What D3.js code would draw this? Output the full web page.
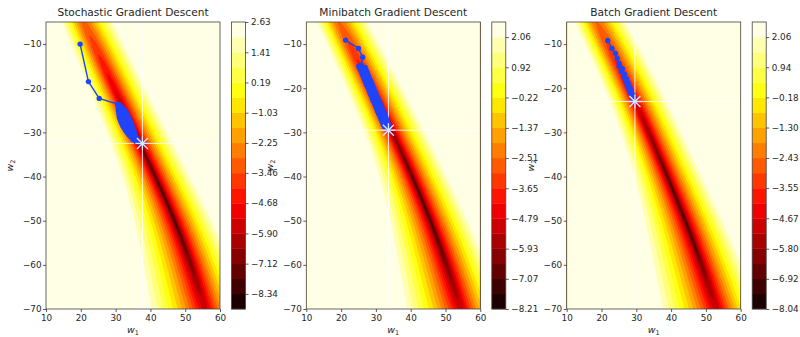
<!DOCTYPE html>
<html>
<head>
<meta charset="utf-8">
<script src="https://cdn.jsdelivr.net/npm/d3@7"></script>
<style>
  body { margin: 0; background: #fff; }
  text { font-family: "DejaVu Sans", sans-serif; fill: #262626; }
</style>
</head>
<body>
<svg id="chart" width="800" height="337"></svg>
<script>
// ---- data ----
const titles = ['Stochastic Gradient Descent', 'Minibatch Gradient Descent', 'Batch Gradient Descent'];
const w1Domain = [10, 60];
const w2Domain = [-70, -5];
const xTicks = [10, 20, 30, 40, 50, 60];
const yTicks = [-10, -20, -30, -40, -50, -60, -70];

// contour level range (min, max) of each panel, 20 levels -> 19 bands
const levelRange = [[-8.95, 2.63], [-8.21, 2.63], [-8.04, 2.62]];
const cbTickLabels = [
  ['2.63', '1.41', '0.19', '−1.03', '−2.25', '−3.46', '−4.68', '−5.90', '−7.12', '−8.34'],
  ['2.06', '0.92', '−0.22', '−1.37', '−2.51', '−3.65', '−4.79', '−5.93', '−7.07', '−8.21'],
  ['2.06', '0.94', '−0.18', '−1.30', '−2.43', '−3.55', '−4.67', '−5.80', '−6.92', '−8.04']
];

// loss valley, sampled at evenly spaced w2 from -5 down to -70:
// centre w1 per panel, distance (w1 units) from centre to the pale outer edge
const valleyW1 = [
  [20.8, 30.2, 40.0, 49.3, 55.8],
  [19.3, 29.5, 39.2, 47.8, 54.5],
  [18.6, 28.9, 37.6, 46.2, 53.1]
];
const edgeLeft = [6.5, 7.0, 8.5, 12.5, 15.5];
const edgeRight = [8.5, 8.8, 9.5, 10.8, 12];
const valleyLowW2 = [-46, -47, -47];
const alongScale = 80;

// descent paths [w1, w2]
const sgdPath = [
  [19.8, -10], [22.2, -18.5], [25.3, -22.3], [30.6, -23.6],
  [31.2, -23.8], [30.8, -24.05], [31.8, -24.3], [30.8, -24.55], [32.4, -24.8], [30.8, -25.05],
  [32.9, -25.3], [30.9, -25.55], [33.2, -25.8], [31.0, -26.05], [33.5, -26.3], [31.1, -26.55],
  [33.8, -26.8], [31.3, -27.05], [34.1, -27.3], [31.5, -27.55], [34.4, -27.8], [31.8, -28.05],
  [34.6, -28.3], [32.1, -28.55], [34.8, -28.8], [32.5, -29.05], [35.1, -29.3], [32.9, -29.55],
  [35.3, -29.8], [33.3, -30.05], [35.5, -30.3], [33.8, -30.55], [35.7, -30.8], [34.4, -31.05],
  [36.0, -31.3], [35.0, -31.55], [36.4, -31.8], [35.8, -32.05], [36.8, -32.25], [37.2, -32.4],
  [37.7, -32.5]
];
const minibatchPath = [
  [21.3, -9.1], [25.0, -11.0], [26.2, -13.0], [25.8, -14.8],
  [25.1, -15.0], [26.9, -15.3], [25.4, -15.6], [27.2, -15.9], [25.8, -16.2], [27.5, -16.5],
  [26.1, -16.8], [27.8, -17.1], [26.4, -17.4], [28.1, -17.7], [26.7, -18.0], [28.5, -18.3],
  [27.0, -18.6], [28.8, -18.9], [27.3, -19.2], [29.1, -19.5], [27.7, -19.8], [29.4, -20.1],
  [28.0, -20.4], [29.7, -20.7], [28.3, -21.0], [30.0, -21.3], [28.6, -21.6], [30.4, -21.9],
  [28.9, -22.2], [30.7, -22.5], [29.2, -22.8], [31.0, -23.1], [29.6, -23.4], [31.3, -23.7],
  [29.9, -24.0], [31.6, -24.3], [30.2, -24.6], [32.0, -24.9], [30.5, -25.2], [32.3, -25.5],
  [30.8, -25.8], [32.6, -26.1], [31.2, -26.4], [32.9, -26.7], [31.5, -27.0], [33.2, -27.3],
  [31.8, -27.6], [33.5, -27.9], [32.1, -28.2], [33.8, -28.5], [32.5, -28.8], [33.8, -29.1],
  [33.6, -29.5]
];
const batchPath = [
  [21.8, -9.2], [23.0, -11.0], [24.0, -12.1], [24.5, -13.2], [25.1, -14.4],
  [25.1, -15.0], [26.0, -15.6], [25.7, -16.2], [26.6, -16.8], [26.4, -17.4], [27.2, -17.9],
  [26.9, -18.4], [27.7, -18.9], [27.4, -19.4], [28.2, -19.9], [27.9, -20.3], [28.6, -20.7],
  [28.3, -21.1], [29.0, -21.5], [28.8, -21.9], [29.3, -22.2], [29.1, -22.5], [29.6, -22.8],
  [29.6, -23.0]
];
const paths = [sgdPath, minibatchPath, batchPath];

// ---- layout ----
const svg = d3.select('#chart');
const plotTop = 22, plotBottom = 309, plotW = 174;
const axLeft = [46, 306.3, 566.7];
const cbGap = 11.5, cbW = 14;
const pathColor = '#1f45fc';

// matplotlib 'hot' colormap
function hot(t) {
  const a = 0.365079, b = 0.746032;
  const r = t < a ? 0.0416 + (1 - 0.0416) * t / a : 1;
  const g = t < a ? 0 : t < b ? (t - a) / (b - a) : 1;
  const bl = t < b ? 0 : (t - b) / (1 - b);
  return d3.rgb(r * 255, g * 255, bl * 255).formatHex();
}

function styleAxis(g) {
  g.select('.domain').remove();
  g.selectAll('line').attr('stroke', '#333').attr('stroke-width', 0.8);
  g.selectAll('text').attr('font-family', 'DejaVu Sans').attr('font-size', 8.8).attr('fill', '#262626');
}

// edge sits on the top contour level (18 of 19): f = sqrt(r) -> r = (18/19)^2
const edgeR = Math.pow(18 / 19, 2);
const along = d3.scaleLinear().domain(w2Domain).range([1, 0]); // 0 at top, 1 at bottom
const leftW = d3.interpolateBasis(edgeLeft.map(v => v / edgeR));
const rightW = d3.interpolateBasis(edgeRight.map(v => v / edgeR));

titles.forEach((title, k) => {
  const x0 = axLeft[k];
  const x = d3.scaleLinear().domain(w1Domain).range([x0, x0 + plotW]);
  const y = d3.scaleLinear().domain(w2Domain).range([plotBottom, plotTop]);
  const [zmin, zmax] = levelRange[k];
  const levels = d3.range(20).map(i => zmin + (zmax - zmin) * i / 19);
  const valley = d3.interpolateBasis(valleyW1[k]);

  // loss surface on a 1px grid
  const nx = plotW, ny = plotBottom - plotTop;
  const values = new Float64Array(nx * ny);
  for (let j = 0; j < ny; j++) {
    const w2 = y.invert(plotTop + j + 0.5);
    const t = along(w2);
    const c = valley(t), wl = leftW(t), wr = rightW(t);
    const s = Math.pow((w2 - valleyLowW2[k]) / alongScale, 2);
    for (let i = 0; i < nx; i++) {
      const w1 = x.invert(x0 + i + 0.5);
      const e = w1 < c ? (c - w1) / wl : (w1 - c) / wr;
      const f = Math.min(1, Math.sqrt(Math.hypot(e, s)));
      values[j * nx + i] = zmin + f * (zmax - zmin);
    }
  }
  const contours = d3.contours().size([nx, ny]).thresholds(levels.slice(0, 19))(values);

  svg.append('clipPath').attr('id', 'clip' + k)
    .append('rect').attr('x', x0).attr('y', plotTop).attr('width', plotW).attr('height', ny);

  const plot = svg.append('g').attr('clip-path', `url(#clip${k})`);

  plot.append('g')
    .attr('transform', `translate(${x0},${plotTop})`)
    .selectAll('path')
    .data(contours)
    .join('path')
    .attr('d', d3.geoPath())
    .attr('fill', (d, i) => hot((i + 0.5) / 19));

  // crosshair through the final point
  const last = paths[k][paths[k].length - 1];
  plot.append('line')
    .attr('x1', x(last[0])).attr('x2', x(last[0]))
    .attr('y1', plotTop).attr('y2', plotBottom)
    .attr('stroke', '#fff').attr('stroke-width', 1).attr('opacity', 0.85);
  plot.append('line')
    .attr('x1', x0).attr('x2', x0 + plotW)
    .attr('y1', y(last[1])).attr('y2', y(last[1]))
    .attr('stroke', '#fff').attr('stroke-width', 1).attr('opacity', 0.85);

  // descent path
  plot.append('path')
    .datum(paths[k])
    .attr('d', d3.line().x(d => x(d[0])).y(d => y(d[1])))
    .attr('fill', 'none')
    .attr('stroke', pathColor)
    .attr('stroke-width', 1.4);
  plot.append('g')
    .selectAll('circle')
    .data(paths[k])
    .join('circle')
    .attr('cx', d => x(d[0]))
    .attr('cy', d => y(d[1]))
    .attr('r', 2.7)
    .attr('fill', pathColor);

  // star marker at the end
  const sx = x(last[0]), sy = y(last[1]);
  const star = plot.append('g').attr('stroke', '#e4e6ff').attr('stroke-width', 1.3);
  [[5.5, 5.5], [5.5, -5.5], [7, 0], [0, 7]].forEach(([dx, dy]) => {
    star.append('line')
      .attr('x1', sx - dx).attr('y1', sy - dy)
      .attr('x2', sx + dx).attr('y2', sy + dy);
  });

  // frame
  svg.append('rect')
    .attr('x', x0).attr('y', plotTop).attr('width', plotW).attr('height', ny)
    .attr('fill', 'none').attr('stroke', '#444').attr('stroke-width', 0.8);

  svg.append('g')
    .attr('transform', `translate(0,${plotBottom})`)
    .call(d3.axisBottom(x).tickValues(xTicks).tickSize(3).tickPadding(3))
    .call(styleAxis);
  svg.append('g')
    .attr('transform', `translate(${x0},0)`)
    .call(d3.axisLeft(y).tickValues(yTicks).tickSize(3).tickPadding(1.5))
    .call(styleAxis);

  svg.append('text')
    .attr('x', x0 + plotW / 2).attr('y', 16)
    .attr('text-anchor', 'middle')
    .attr('font-size', 10.6)
    .text(title);

  const xl = svg.append('text')
    .attr('x', x0 + plotW / 2).attr('y', 333)
    .attr('text-anchor', 'middle')
    .attr('font-size', 9.5).attr('font-style', 'italic');
  xl.append('tspan').text('w');
  xl.append('tspan').attr('font-size', 6.5).attr('font-style', 'normal').attr('dy', 2).text('1');

  const yl = svg.append('text')
    .attr('transform', `translate(${x0 - 33},${(plotTop + plotBottom) / 2}) rotate(-90)`)
    .attr('text-anchor', 'middle')
    .attr('font-size', 9.5).attr('font-style', 'italic');
  yl.append('tspan').text('w');
  yl.append('tspan').attr('font-size', 6.5).attr('font-style', 'normal').attr('dy', 2).text('2');

  // colorbar
  const cbX = x0 + plotW + cbGap;
  const cb = d3.scaleLinear().domain([zmin, zmax]).range([plotBottom, plotTop]);
  svg.append('g')
    .selectAll('rect')
    .data(d3.range(19))
    .join('rect')
    .attr('x', cbX)
    .attr('y', i => cb(levels[i + 1]))
    .attr('width', cbW)
    .attr('height', i => cb(levels[i]) - cb(levels[i + 1]) + 0.3)
    .attr('fill', i => hot((i + 0.5) / 19));
  svg.append('rect')
    .attr('x', cbX).attr('y', plotTop).attr('width', cbW).attr('height', ny)
    .attr('fill', 'none').attr('stroke', '#444').attr('stroke-width', 0.8);
  const cbVals = cbTickLabels[k].map(s => +s.replace('−', '-'));
  svg.append('g')
    .attr('transform', `translate(${cbX + cbW},0)`)
    .call(d3.axisRight(cb).tickValues(cbVals).tickFormat((d, i) => cbTickLabels[k][i]).tickSize(3).tickPadding(2.5))
    .call(styleAxis);
});
</script>
</body>
</html>
